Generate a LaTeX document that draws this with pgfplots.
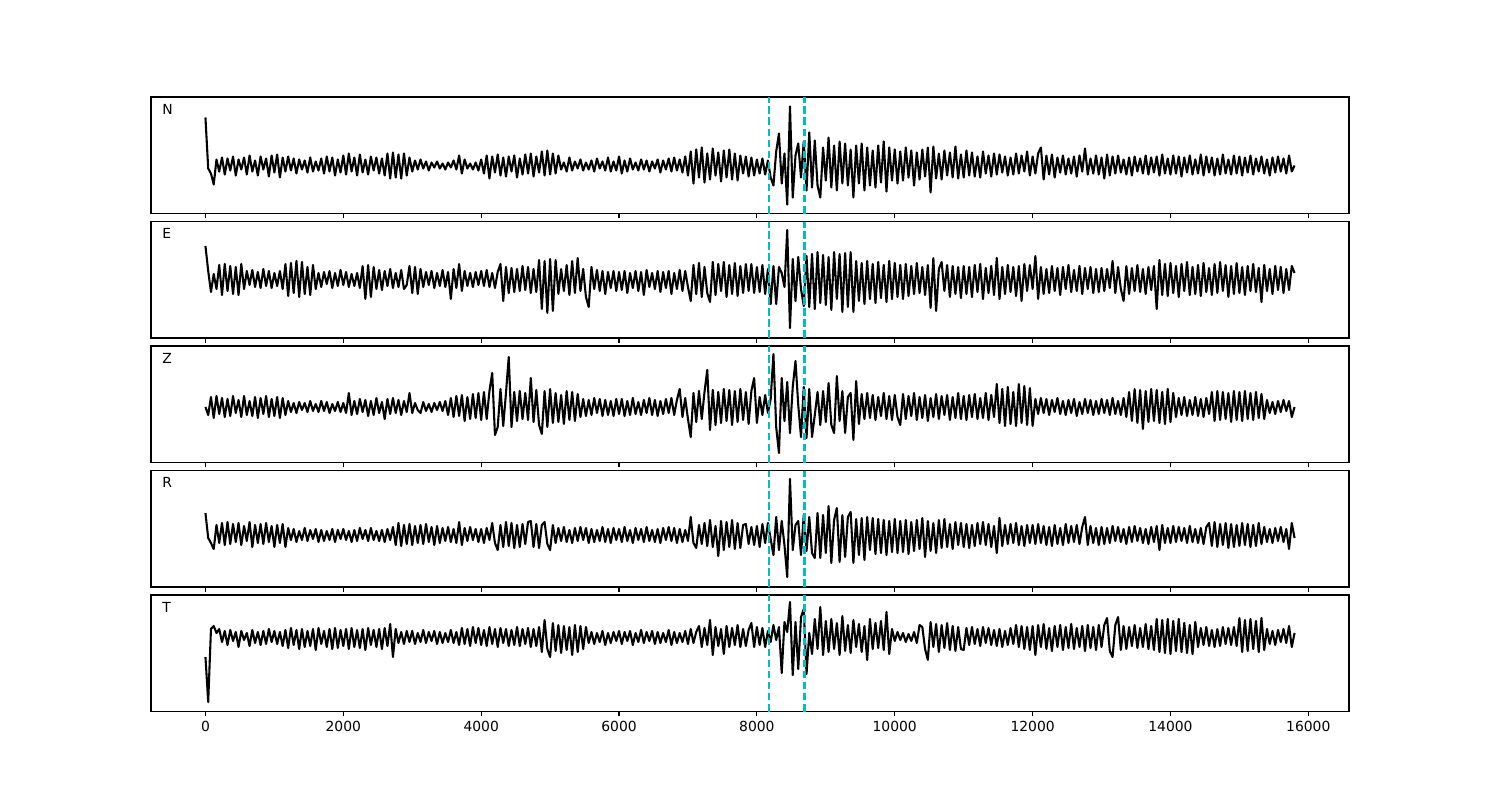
\documentclass[border=0pt]{standalone}
\usepackage{fontspec}
\setmainfont{DejaVu Sans}
\usepackage{pgfplots}
\usepackage{pgfplotstable}
\pgfplotsset{compat=1.18}
\definecolor{mplcyan}{rgb}{0,0.75,0.75}

% traces, one value every 40 samples (0 ... 15800), offsets from the baseline
\pgfplotstableread[row sep=\\,header=false]{
48\\ -3\\ -8\\ -19\\ 6\\ -6\\ 8\\ -9\\ 7\\ -5\\ 9\\ -10\\ 6\\ -4\\ 8\\ -9\\ 10\\ -6\\ 5\\ -10\\ 9\\ -4\\ 7\\ -11\\ 10\\
-7\\ 11\\ -12\\ 8\\ -6\\ 9\\ -5\\ 7\\ -8\\ 6\\ -4\\ 5\\ -7\\ 8\\ -6\\ 4\\ -5\\ 7\\ -8\\ 9\\ -6\\ 8\\ -10\\ 6\\ -7\\
10\\ -9\\ 12\\ -6\\ 8\\ -10\\ 11\\ -7\\ 6\\ -9\\ 9\\ -5\\ 8\\ -8\\ 7\\ -10\\ 12\\ -13\\ 13\\ -12\\ 11\\ -13\\ 12\\ -10\\ 8\\
-6\\ 5\\ -4\\ 6\\ -3\\ 4\\ -5\\ 3\\ -2\\ 4\\ -3\\ 2\\ -4\\ 3\\ -2\\ 5\\ -4\\ 10\\ -8\\ 6\\ -3\\ 2\\ -4\\ 3\\ -5\\
6\\ -8\\ 10\\ -13\\ 9\\ -7\\ 11\\ -10\\ 8\\ -11\\ 9\\ -6\\ 10\\ -12\\ 7\\ -9\\ 11\\ -8\\ 12\\ -11\\ 9\\ -7\\ 14\\ -10\\ 15\\
-9\\ 12\\ -8\\ 10\\ -4\\ 3\\ -6\\ 8\\ -5\\ 4\\ -3\\ 6\\ -5\\ 3\\ -4\\ 5\\ -6\\ 7\\ -3\\ 4\\ -5\\ 8\\ -6\\ 4\\ -5\\
9\\ -8\\ 5\\ -6\\ 7\\ -4\\ 3\\ -5\\ 6\\ -4\\ 5\\ -6\\ 4\\ -3\\ 6\\ -7\\ 5\\ -4\\ 7\\ -6\\ 8\\ -5\\ 6\\ -7\\ 9\\
-10\\ 14\\ -18\\ 16\\ -12\\ 18\\ -17\\ 12\\ -14\\ 17\\ -10\\ 13\\ -16\\ 15\\ -12\\ 16\\ -14\\ 12\\ -15\\ 10\\ -8\\ 9\\ -11\\ 8\\ -10\\
6\\ -8\\ 7\\ -9\\ 5\\ -12\\ -20\\ 14\\ 32\\ -18\\ 12\\ -39\\ 59\\ -32\\ 10\\ 22\\ -12\\ 24\\ -25\\ 33\\ -22\\ 25\\ -20\\ -32\\ 18\\
-15\\ 28\\ -22\\ 20\\ -25\\ 24\\ -18\\ 22\\ -20\\ 16\\ -32\\ 20\\ -18\\ 22\\ -25\\ 18\\ -20\\ 15\\ -22\\ 20\\ -17\\ 24\\ -26\\ 18\\ -15\\
16\\ -18\\ 14\\ -15\\ 18\\ -12\\ 15\\ -20\\ 13\\ -14\\ 16\\ -11\\ 18\\ -27\\ 19\\ -13\\ 12\\ -14\\ 15\\ -10\\ 13\\ -12\\ 19\\ -13\\ 11\\
-12\\ 15\\ -10\\ 13\\ -11\\ 9\\ -12\\ 14\\ -8\\ 10\\ -11\\ 12\\ -9\\ 11\\ -7\\ 9\\ -10\\ 8\\ -9\\ 12\\ -8\\ 10\\ -6\\ 14\\ -10\\
9\\ -8\\ 12\\ 18\\ -14\\ 10\\ -9\\ 11\\ -12\\ 8\\ -7\\ 10\\ -9\\ 7\\ -8\\ 9\\ -11\\ 10\\ -6\\ 17\\ -9\\ 7\\ -8\\ 10\\ -9\\
8\\ -13\\ 11\\ -10\\ 9\\ -8\\ 10\\ -7\\ 6\\ -9\\ 8\\ -10\\ 9\\ -6\\ 7\\ -8\\ 10\\ -9\\ 8\\ -7\\ 9\\ -10\\ 11\\ -8\\ 7\\
-9\\ 10\\ -8\\ 9\\ -11\\ 8\\ -7\\ 10\\ -9\\ 6\\ -8\\ 11\\ -10\\ 9\\ -7\\ 8\\ -10\\ 7\\ -9\\ 11\\ -8\\ 6\\ -9\\ 10\\ -8\\
9\\ -10\\ 8\\ -7\\ 10\\ -9\\ 7\\ -6\\ 9\\ -8\\ 6\\ -10\\ 8\\ -7\\ 9\\ -6\\ 7\\ -8\\ 10\\ -6\\ 0\\
}\trN

\pgfplotstableread[row sep=\\,header=false]{
33\\ 8\\ -13\\ 5\\ -10\\ 14\\ -16\\ 15\\ -12\\ 13\\ -15\\ 12\\ -16\\ 15\\ -10\\ 8\\ -6\\ 9\\ -8\\ 7\\ -9\\ 10\\ -7\\ 8\\ -9\\
6\\ -7\\ 8\\ -10\\ 15\\ -17\\ 16\\ -14\\ 18\\ -18\\ 17\\ -15\\ 12\\ -16\\ 14\\ -10\\ 6\\ -8\\ 7\\ -5\\ 8\\ -9\\ 6\\ -7\\ 9\\
-6\\ 7\\ -8\\ 5\\ -7\\ 6\\ -9\\ 13\\ -20\\ 14\\ -18\\ 12\\ -10\\ 9\\ -11\\ 8\\ -7\\ 10\\ -9\\ 6\\ -8\\ 9\\ -10\\ -6\\ 13\\
-14\\ 12\\ -15\\ 10\\ -8\\ 7\\ -6\\ 8\\ -9\\ 6\\ -7\\ 9\\ -8\\ 7\\ -20\\ 10\\ -9\\ 15\\ -12\\ 8\\ -7\\ 6\\ -8\\ 7\\ -6\\
8\\ -7\\ 9\\ -8\\ 6\\ -9\\ 7\\ 15\\ -22\\ 12\\ -14\\ 11\\ -13\\ 10\\ -12\\ 13\\ -11\\ 12\\ -14\\ 10\\ -13\\ 19\\ -30\\ 18\\ -34\\
20\\ -32\\ 19\\ -15\\ 10\\ -12\\ 14\\ -16\\ 18\\ -14\\ 21\\ -12\\ 10\\ -18\\ -28\\ 12\\ -10\\ 9\\ -12\\ 8\\ -15\\ 7\\ -9\\ 8\\ -12\\
7\\ -11\\ 8\\ -14\\ 6\\ -9\\ 8\\ -12\\ 7\\ -16\\ 9\\ -8\\ 6\\ -10\\ 8\\ -13\\ 7\\ -9\\ 8\\ -15\\ 6\\ -10\\ 9\\ -12\\ 8\\
-8\\ -22\\ 14\\ -15\\ 16\\ -18\\ 12\\ -14\\ -23\\ 17\\ -16\\ 15\\ -12\\ 17\\ -18\\ 14\\ -15\\ 16\\ -17\\ 13\\ -14\\ 15\\ -12\\ 15\\ -14\\
12\\ -13\\ 14\\ -15\\ 10\\ -25\\ 13\\ -25\\ 12\\ 6\\ -8\\ 49\\ -49\\ 20\\ -22\\ 22\\ -10\\ -27\\ 23\\ -28\\ 25\\ -30\\ 27\\ -24\\ 24\\
-26\\ 22\\ -31\\ 27\\ -20\\ 25\\ -33\\ 26\\ -28\\ 27\\ -33\\ 18\\ -22\\ 16\\ -25\\ 18\\ -20\\ 15\\ -24\\ 17\\ -19\\ 14\\ -23\\ 18\\ -20\\
16\\ -18\\ 14\\ -20\\ 15\\ -17\\ 13\\ -15\\ 16\\ -14\\ 12\\ -16\\ 14\\ -29\\ 21\\ -32\\ 10\\ 17\\ -12\\ 14\\ -18\\ 13\\ -15\\ 12\\ -19\\
13\\ -15\\ 12\\ -18\\ 14\\ -13\\ 15\\ -20\\ 11\\ -14\\ 13\\ -16\\ 21\\ -20\\ 12\\ -15\\ 14\\ -13\\ 12\\ -17\\ 13\\ -22\\ 15\\ -12\\ 14\\
-10\\ 23\\ -20\\ 12\\ -15\\ 10\\ -14\\ 13\\ -12\\ 11\\ -16\\ 12\\ -10\\ 14\\ -13\\ 9\\ -12\\ 13\\ -15\\ 11\\ -10\\ 12\\ -14\\ 10\\ -13\\
11\\ -12\\ 10\\ -9\\ 18\\ -14\\ 12\\ -10\\ -22\\ 13\\ -15\\ 11\\ -12\\ 14\\ -13\\ 10\\ -15\\ 12\\ -11\\ 13\\ -30\\ 19\\ -16\\ 15\\ -17\\
16\\ -14\\ 13\\ -18\\ 15\\ -12\\ 17\\ -16\\ 12\\ -15\\ 14\\ -17\\ 16\\ -13\\ 11\\ -16\\ 15\\ -14\\ 17\\ -12\\ 14\\ -18\\ 13\\ -15\\ 16\\
-14\\ 12\\ -16\\ 13\\ -12\\ 15\\ -13\\ 11\\ -23\\ 14\\ -12\\ 10\\ -15\\ 13\\ -11\\ 12\\ -14\\ 10\\ -11\\ 13\\ 6\\
}\trE

\pgfplotstableread[row sep=\\,header=false]{
0\\ -8\\ 10\\ -11\\ 11\\ -7\\ 9\\ -10\\ 8\\ -9\\ 11\\ -6\\ 7\\ -10\\ 11\\ -8\\ 6\\ -9\\ 10\\ -11\\ 9\\ -7\\ 11\\ -10\\ 8\\
-9\\ 10\\ -11\\ 9\\ -8\\ 6\\ -5\\ 4\\ -6\\ 5\\ -3\\ 4\\ -5\\ 6\\ -4\\ 3\\ -5\\ 6\\ -4\\ 5\\ -6\\ 3\\ -4\\ 5\\ -5\\
4\\ -6\\ 14\\ -8\\ 6\\ -7\\ 8\\ -5\\ 7\\ -9\\ 6\\ -8\\ 9\\ -6\\ 5\\ -12\\ 8\\ -7\\ 9\\ -6\\ 7\\ -8\\ 6\\ -5\\ 14\\
-6\\ 4\\ -3\\ -6\\ 5\\ -4\\ 3\\ -5\\ 4\\ -3\\ 5\\ -4\\ 6\\ -8\\ 9\\ -10\\ 11\\ -9\\ 12\\ -14\\ 10\\ -12\\ 13\\ -11\\ 14\\
-13\\ 15\\ -12\\ 16\\ 34\\ -28\\ -20\\ 18\\ -19\\ 14\\ 50\\ -20\\ 15\\ -14\\ 16\\ -12\\ 14\\ -13\\ 29\\ -15\\ 17\\ -18\\ -27\\ 16\\ -20\\
18\\ -16\\ 14\\ -15\\ 12\\ -17\\ 16\\ -13\\ 15\\ -14\\ 13\\ -10\\ 8\\ -9\\ 7\\ -8\\ 9\\ -6\\ 8\\ -9\\ 7\\ -8\\ 6\\ -9\\ 8\\
-7\\ 8\\ -9\\ 6\\ -8\\ 9\\ -7\\ 5\\ -8\\ 7\\ -6\\ 9\\ -8\\ 7\\ -9\\ 6\\ -7\\ 8\\ -6\\ 9\\ -8\\ 7\\ 18\\ -10\\ 9\\
-12\\ -30\\ 14\\ -15\\ 16\\ -12\\ 15\\ 37\\ -23\\ 17\\ -18\\ 15\\ -16\\ 18\\ -14\\ 17\\ -18\\ 16\\ -15\\ 18\\ -13\\ 15\\ -17\\ 16\\ 29\\
-16\\ 10\\ -8\\ 12\\ -6\\ 8\\ 53\\ -20\\ -46\\ 29\\ -14\\ 25\\ -26\\ 20\\ 46\\ 2\\ -30\\ 20\\ -31\\ 18\\ -30\\ -8\\ 15\\ -18\\ 16\\
-15\\ 24\\ -18\\ -26\\ 31\\ -14\\ 16\\ -26\\ 10\\ 14\\ -33\\ 26\\ -17\\ 13\\ -12\\ 14\\ -11\\ 12\\ -13\\ 10\\ -9\\ 14\\ -12\\ 11\\ -13\\
12\\ -10\\ -18\\ 13\\ -12\\ 11\\ -9\\ 14\\ -13\\ 10\\ -11\\ 12\\ -14\\ 9\\ -10\\ 13\\ -12\\ 11\\ -8\\ 12\\ -13\\ 10\\ -11\\ 14\\ -12\\
11\\ -13\\ 12\\ -10\\ 13\\ -12\\ 9\\ -11\\ 14\\ -13\\ 12\\ -10\\ 23\\ -16\\ 18\\ -19\\ 20\\ -17\\ 15\\ -19\\ 23\\ -16\\ 21\\ -18\\ 19\\
-19\\ 8\\ -7\\ 9\\ -6\\ 8\\ -8\\ 7\\ -5\\ 9\\ -7\\ 6\\ -8\\ 7\\ -6\\ 8\\ -9\\ 5\\ -7\\ 8\\ -6\\ 7\\ -8\\ 6\\ -7\\
8\\ -6\\ 7\\ -8\\ 9\\ -7\\ 6\\ -8\\ 9\\ -10\\ 15\\ -14\\ 18\\ -16\\ 17\\ -22\\ 16\\ -15\\ 18\\ -14\\ 17\\ -16\\ 15\\ -17\\ 18\\
-15\\ 14\\ -10\\ 9\\ -8\\ 10\\ -9\\ 7\\ -8\\ 10\\ -9\\ 8\\ -10\\ 9\\ -7\\ 15\\ -14\\ 16\\ -13\\ 15\\ -12\\ 14\\ -15\\ 16\\ -13\\
15\\ -14\\ 16\\ -12\\ 14\\ -13\\ 15\\ -11\\ 13\\ -12\\ 7\\ -6\\ 5\\ -7\\ 6\\ -5\\ 7\\ -4\\ 6\\ -10\\ 0\\
}\trZ

\pgfplotstableread[row sep=\\,header=false]{
22\\ -3\\ -8\\ -14\\ 10\\ -8\\ 12\\ -10\\ 13\\ -9\\ 11\\ -7\\ 12\\ -10\\ 9\\ -6\\ 13\\ -12\\ 10\\ -8\\ 11\\ -9\\ 12\\ -7\\ 9\\
-12\\ 10\\ -8\\ 11\\ -12\\ 7\\ -5\\ 6\\ -7\\ 4\\ -5\\ 7\\ -6\\ 5\\ -4\\ 6\\ -7\\ 5\\ -6\\ 4\\ -5\\ 6\\ -7\\ 5\\ -4\\
6\\ -5\\ 4\\ -7\\ 5\\ -6\\ 7\\ -4\\ 5\\ -6\\ 7\\ -5\\ 4\\ -6\\ 5\\ -7\\ 6\\ -5\\ 8\\ -10\\ 12\\ -11\\ 10\\ -9\\ 11\\
-10\\ 9\\ -8\\ 10\\ -9\\ 11\\ -7\\ 8\\ -10\\ 9\\ -8\\ 7\\ -6\\ 8\\ -7\\ 6\\ -8\\ 13\\ -10\\ 7\\ -6\\ 8\\ -5\\ 6\\ -7\\
6\\ -8\\ 7\\ -5\\ 12\\ -8\\ -15\\ 10\\ -12\\ 13\\ -11\\ 12\\ -13\\ 10\\ -12\\ 11\\ -9\\ 13\\ 14\\ -12\\ 11\\ -13\\ 10\\ 13\\ -9\\
-15\\ 10\\ -8\\ 7\\ -6\\ 8\\ -7\\ 5\\ -8\\ 7\\ -6\\ 8\\ -5\\ 7\\ -8\\ 6\\ -7\\ 5\\ -6\\ 8\\ -7\\ 6\\ -8\\ 7\\ -5\\
6\\ -7\\ 8\\ -6\\ 5\\ -8\\ 7\\ -5\\ 6\\ -7\\ 8\\ -6\\ 5\\ -7\\ 6\\ -8\\ 7\\ -5\\ 8\\ -6\\ 7\\ -8\\ 6\\ -7\\ 5\\
-6\\ 18\\ -8\\ -13\\ 10\\ -9\\ 12\\ -11\\ 15\\ -12\\ 9\\ -21\\ 14\\ -15\\ 13\\ -12\\ 15\\ -14\\ 12\\ -13\\ 10\\ 11\\ -9\\ 8\\ -10\\
9\\ -12\\ 11\\ -8\\ 12\\ -4\\ -20\\ 18\\ -15\\ 14\\ -10\\ -42\\ 56\\ -15\\ 10\\ 14\\ -20\\ 20\\ -16\\ 18\\ -18\\ -23\\ 22\\ -23\\ 20\\
-18\\ 29\\ -28\\ 15\\ 27\\ -27\\ 20\\ -22\\ 18\\ 23\\ -28\\ 16\\ -20\\ 17\\ -25\\ 18\\ -15\\ 17\\ -19\\ 16\\ -18\\ 15\\ -20\\ 14\\ -17\\
16\\ -18\\ 14\\ -17\\ 15\\ -19\\ 13\\ -16\\ 15\\ -14\\ 17\\ -22\\ 14\\ -16\\ 12\\ -18\\ 15\\ -13\\ 16\\ -12\\ 11\\ -14\\ 13\\ -10\\ 12\\
-12\\ 11\\ -13\\ 10\\ -11\\ 12\\ -9\\ 13\\ -10\\ 11\\ -12\\ 9\\ -18\\ 17\\ -11\\ 10\\ -9\\ 11\\ -8\\ 12\\ -10\\ 9\\ -11\\ 10\\ -8\\
10\\ -9\\ 11\\ -8\\ 9\\ -10\\ 8\\ -11\\ 10\\ -9\\ 7\\ -10\\ 11\\ -8\\ 9\\ -7\\ 10\\ -9\\ 8\\ 18\\ -10\\ 9\\ -8\\ 7\\ -10\\
8\\ -9\\ 7\\ -8\\ 9\\ -6\\ 8\\ -7\\ 6\\ -9\\ 8\\ -7\\ 9\\ -6\\ 7\\ -8\\ 6\\ -9\\ 8\\ -7\\ 9\\ -15\\ 10\\ -8\\ 7\\
-8\\ 9\\ -7\\ 8\\ -6\\ 7\\ -8\\ 9\\ -7\\ 6\\ -8\\ 7\\ -9\\ 8\\ 12\\ -11\\ 13\\ -12\\ 11\\ -10\\ 12\\ -13\\ 11\\ -12\\ 10\\
-11\\ 12\\ -10\\ 11\\ -12\\ 10\\ -11\\ 12\\ -9\\ 8\\ -7\\ 6\\ -8\\ 7\\ -6\\ 8\\ -7\\ 6\\ -14\\ 12\\ -3\\
}\trR

\pgfplotstableread[row sep=\\,header=false]{
-20\\ -65\\ 8\\ 11\\ 4\\ 8\\ -5\\ 6\\ -8\\ 7\\ -4\\ 5\\ -10\\ 6\\ -3\\ 4\\ -9\\ 7\\ -6\\ 5\\ -8\\ 6\\ -7\\ 8\\ -5\\
6\\ -7\\ 5\\ -9\\ 7\\ -11\\ 9\\ -8\\ 7\\ -12\\ 8\\ -10\\ 6\\ -9\\ 8\\ -13\\ 9\\ -7\\ 6\\ -10\\ 8\\ -12\\ 9\\ -11\\ 7\\
-9\\ 8\\ -12\\ 9\\ -10\\ 7\\ -11\\ 8\\ -13\\ 9\\ -8\\ 7\\ -10\\ 8\\ -12\\ 9\\ -9\\ 13\\ -20\\ 8\\ -6\\ 5\\ -7\\ 6\\ -5\\
6\\ -7\\ 4\\ -5\\ 7\\ -6\\ 5\\ -4\\ 6\\ -7\\ 5\\ -6\\ 4\\ -5\\ 7\\ -6\\ 5\\ -8\\ 9\\ -7\\ 8\\ -9\\ 10\\ -6\\ 9\\
-8\\ 7\\ -9\\ 10\\ -7\\ 8\\ -10\\ 9\\ -6\\ 8\\ -9\\ 7\\ -8\\ 10\\ -9\\ 8\\ -7\\ 9\\ -10\\ 8\\ -9\\ 10\\ -15\\ 17\\ -12\\
-20\\ 14\\ -14\\ 12\\ -16\\ 11\\ -13\\ 10\\ -18\\ 12\\ -15\\ 11\\ -12\\ 10\\ -6\\ 5\\ -7\\ 4\\ -5\\ 6\\ -8\\ 4\\ -6\\ 5\\ -4\\
6\\ -7\\ 5\\ -4\\ 6\\ -8\\ 4\\ -5\\ 7\\ -6\\ 5\\ -4\\ 6\\ -7\\ 5\\ -6\\ 4\\ -5\\ 7\\ -8\\ 5\\ -6\\ 4\\ -5\\ 6\\
-7\\ 8\\ -6\\ 5\\ 11\\ -10\\ 9\\ -8\\ 17\\ -18\\ 10\\ -9\\ 8\\ -17\\ 11\\ -10\\ 9\\ -8\\ 12\\ -10\\ 8\\ -9\\ 7\\ 14\\ -10\\
10\\ -8\\ 9\\ -10\\ 6\\ -5\\ 12\\ -3\\ 10\\ -36\\ 15\\ 5\\ 35\\ -38\\ 15\\ -32\\ 20\\ 28\\ -37\\ 4\\ -17\\ 18\\ -12\\ 30\\ -18\\
16\\ -15\\ 18\\ -12\\ 14\\ -18\\ 21\\ -14\\ 12\\ -16\\ 17\\ -10\\ 13\\ -15\\ 11\\ -23\\ 18\\ -12\\ 14\\ -11\\ 16\\ -13\\ 25\\ -17\\ 8\\
-4\\ 5\\ -3\\ 4\\ -5\\ 3\\ -4\\ 5\\ -6\\ 12\\ 10\\ -12\\ -23\\ 15\\ -10\\ 13\\ -15\\ 12\\ -11\\ 14\\ -13\\ 11\\ -14\\ 10\\ -12\\
-13\\ 9\\ -8\\ 10\\ -7\\ 8\\ -9\\ 10\\ -6\\ 9\\ -8\\ 7\\ -9\\ 8\\ -10\\ 6\\ -8\\ 9\\ -7\\ 12\\ -10\\ 11\\ -12\\ 10\\ -13\\
11\\ -18\\ 12\\ -10\\ 13\\ -12\\ 9\\ -14\\ 11\\ -10\\ 12\\ -13\\ 10\\ -11\\ 13\\ -12\\ 9\\ -10\\ 11\\ -14\\ 12\\ -11\\ 10\\ -13\\ 12\\
-10\\ 12\\ 19\\ -14\\ -20\\ 12\\ 20\\ -13\\ 11\\ -12\\ 10\\ -9\\ 12\\ -11\\ 9\\ -10\\ 13\\ -12\\ 11\\ -13\\ 18\\ -15\\ 17\\ -16\\ 18\\
-17\\ 16\\ -14\\ 18\\ -15\\ 14\\ -16\\ 12\\ -17\\ 15\\ -10\\ 9\\ -8\\ 10\\ -9\\ 7\\ -10\\ 8\\ -9\\ 10\\ -7\\ 9\\ -8\\ 10\\ -9\\
19\\ -15\\ 17\\ -14\\ 18\\ -12\\ 16\\ -15\\ 19\\ -13\\ 8\\ -7\\ 6\\ -8\\ 7\\ -5\\ 8\\ -6\\ 11\\ -10\\ 4\\
}\trT

\pgfplotsset{
  panel/.style={
    at={(0pt,#1)}, anchor=north west,
    scale only axis, width=862.56pt, height=83.88pt,
    xmin=-790, xmax=16590,
    xtick={0,2000,...,16000}, ytick=\empty,
    scaled x ticks=false,
    tick align=outside, xtick pos=left,
    major tick length=3.5pt,
    axis line style={line width=0.8pt},
    every tick/.style={black, line width=0.8pt},
    /pgf/number format/set thousands separator={},
    /pgf/number format/assume math mode=true,
  },
  trace/.style={black, line width=1.5pt, line join=round},
  pick/.style={mplcyan, line width=1.6pt, dash pattern=on 5.55pt off 2.4pt},
}
\newcommand{\comp}[1]{\node[anchor=west, inner sep=0pt] at (rel axis cs:0.0092,0.897) {#1};}

\begin{document}
\begin{tikzpicture}
\path[use as bounding box] (-108.72pt,69.84pt) rectangle (971.28pt,-506.16pt);

\begin{axis}[panel=0pt, ymin=-48, ymax=68.5, xticklabels=\empty]
  \addplot[trace] table[x expr=\coordindex*40, y index=0] {\trN};
  \addplot[pick] coordinates {(8180,-48) (8180,68.5)};
  \addplot[pick] coordinates {(8690,-48) (8690,68.5)};
  \comp{N}
\end{axis}

\begin{axis}[panel=-89.64pt, ymin=-59, ymax=57.5, xticklabels=\empty]
  \addplot[trace] table[x expr=\coordindex*40, y index=0] {\trE};
  \addplot[pick] coordinates {(8180,-59) (8180,57.5)};
  \addplot[pick] coordinates {(8690,-59) (8690,57.5)};
  \comp{E}
\end{axis}

\begin{axis}[panel=-179.28pt, ymin=-55.5, ymax=61, xticklabels=\empty]
  \addplot[trace] table[x expr=\coordindex*40, y index=0] {\trZ};
  \addplot[pick] coordinates {(8180,-55.5) (8180,61)};
  \addplot[pick] coordinates {(8690,-55.5) (8690,61)};
  \comp{Z}
\end{axis}

\begin{axis}[panel=-268.92pt, ymin=-52, ymax=64.5, xticklabels=\empty]
  \addplot[trace] table[x expr=\coordindex*40, y index=0] {\trR};
  \addplot[pick] coordinates {(8180,-52) (8180,64.5)};
  \addplot[pick] coordinates {(8690,-52) (8690,64.5)};
  \comp{R}
\end{axis}

\begin{axis}[panel=-358.56pt, ymin=-74.5, ymax=42]
  \addplot[trace] table[x expr=\coordindex*40, y index=0] {\trT};
  \addplot[pick] coordinates {(8180,-74.5) (8180,42)};
  \addplot[pick] coordinates {(8690,-74.5) (8690,42)};
  \comp{T}
\end{axis}
\end{tikzpicture}
\end{document}
